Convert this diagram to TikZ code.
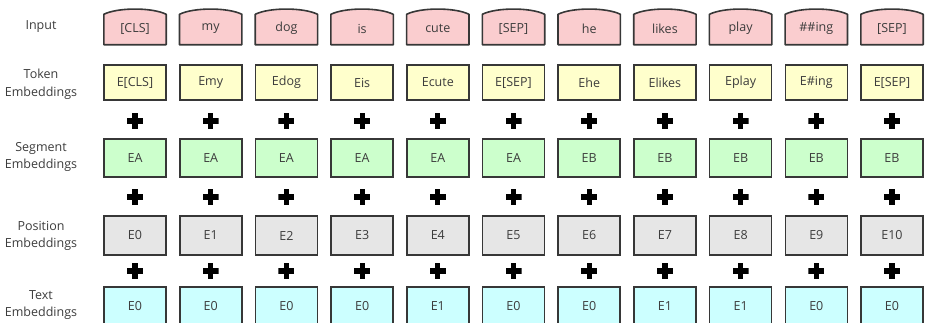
\documentclass[tikz,border=0pt]{standalone}
\usepackage{fontspec}
\setmainfont{Open Sans}
\begin{document}
\definecolor{inputfill}{RGB}{250,205,207}
\definecolor{tokenfill}{RGB}{255,255,204}
\definecolor{segfill}{RGB}{204,255,204}
\definecolor{posfill}{RGB}{230,230,230}
\definecolor{textfill}{RGB}{204,255,255}
\definecolor{edge}{RGB}{55,55,55}
\definecolor{labelgray}{RGB}{60,60,60}
\begin{tikzpicture}[x=1pt,y=-1pt,
  font=\fontsize{12.5}{17.5}\selectfont,
  cell/.style={minimum width=62pt,inner sep=0pt,text=labelgray},
  embbox/.style={cell,draw=edge,line width=1.6pt,minimum height=#1},
  inputbody/.style={cell,minimum height=30pt},
  inputedge/.style={draw=edge,fill=inputfill,line width=1.6pt,line join=round},
  rowlabel/.style={align=center,text=labelgray,inner sep=0pt},
  plussign/.style={minimum size=16pt,inner sep=0pt,
    path picture={
      \fill[black] ([xshift=-2.6pt]path picture bounding box.north) rectangle ([xshift=2.6pt]path picture bounding box.south);
      \fill[black] ([yshift=2.6pt]path picture bounding box.west) rectangle ([yshift=-2.6pt]path picture bounding box.east);
    }},
]
\useasboundingbox (0,0) rectangle (925,322);

% row labels
\node[rowlabel] (lin)  at (41,27)  {Input};
\node[rowlabel] (ltok) at (41,84)  {Token\\Embeddings};
\node[rowlabel] (lseg) at (41,157) {Segment\\Embeddings};
\node[rowlabel] (lpos) at (41,236) {Position\\Embeddings};
\node[rowlabel] (ltxt) at (41,305) {Text\\Embeddings};

\foreach \k/\word/\tok/\seg/\pos/\txt in {
  0/{[CLS]}/{E[CLS]}/EA/E0/E0,
  1/my/Emy/EA/E1/E0,
  2/dog/Edog/EA/E2/E0,
  3/is/Eis/EA/E3/E0,
  4/cute/Ecute/EA/E4/E1,
  5/{[SEP]}/{E[SEP]}/EA/E5/E0,
  6/he/Ehe/EB/E6/E0,
  7/likes/Elikes/EB/E7/E1,
  8/play/Eplay/EB/E8/E1,
  9/{\#\#ing}/{E\#ing}/EB/E9/E0,
  10/{[SEP]}/{E[SEP]}/EB/E10/E0}{
  \pgfmathsetmacro\cx{135+75.7*\k}
  % input token with arched top
  \node[inputbody] (in\k) at (\cx,29.5) {};
  \draw[inputedge] (in\k.south west) -- (in\k.north west)
     .. controls +(14pt,7pt) and +(-14pt,7pt) .. (in\k.north east)
     -- (in\k.south east) -- cycle;
  \node[cell] at ([yshift=1pt]in\k.center) {\word};
  % embedding rows
  \node[embbox=35pt,fill=tokenfill] (tok\k) at (\cx,82.5)  {\tok};
  \node[embbox=38pt,fill=segfill]   (seg\k) at (\cx,158)   {\seg};
  \node[embbox=39pt,fill=posfill]   (pos\k) at (\cx,235.5) {\pos};
  \node[embbox=39pt,fill=textfill]  (txt\k) at (\cx,306.5) {\txt};
  % plus signs between rows
  \node[plussign] (pa\k) at (\cx,121) {};
  \node[plussign] (pb\k) at (\cx,197) {};
  \node[plussign] (pc\k) at (\cx,271) {};
}
\end{tikzpicture}
\end{document}
